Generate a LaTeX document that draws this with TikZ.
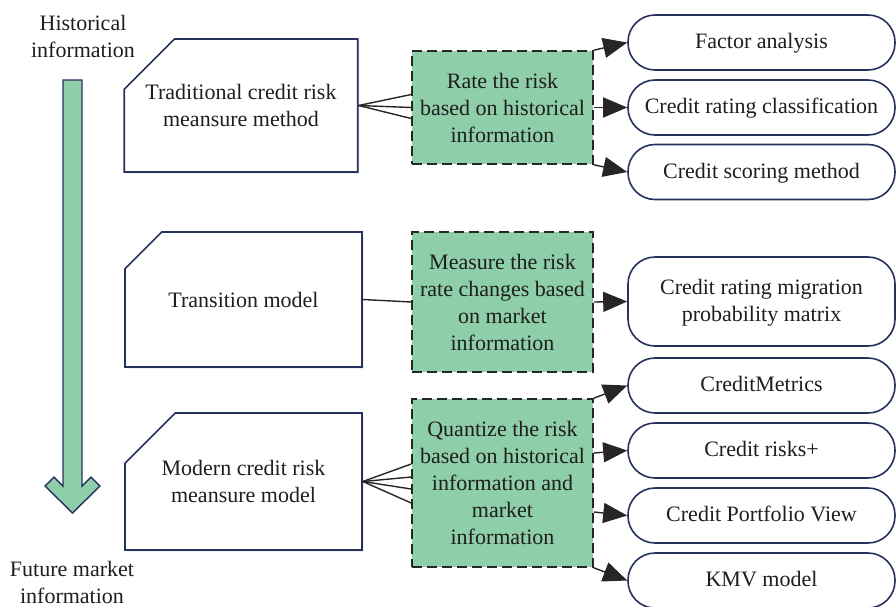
\documentclass[tikz,border=0pt]{standalone}
\usepackage{fontspec}
\setmainfont{Liberation Serif}
\usepackage{tikz}
\usetikzlibrary{shapes.misc,arrows.meta,shadows}
\definecolor{navy}{RGB}{38,50,94}
\definecolor{mint}{RGB}{142,206,168}
\definecolor{ink}{RGB}{30,30,30}
\tikzstyle{method} = [chamfered rectangle,chamfered rectangle corners=north west,
    chamfered rectangle xsep=29pt,chamfered rectangle ysep=29pt,inner sep=0pt,
    draw=navy,line width=1.6pt,fill=white,align=center,
    drop shadow={opacity=0.2,shadow xshift=1.5pt,shadow yshift=-1.5pt}]
\tikzstyle{basis} = [rectangle,draw=black!85,fill=mint,line width=1.6pt,
    dash pattern=on 10pt off 5pt,align=center,minimum width=181pt]
\tikzstyle{tool} = [rectangle,rounded corners=27pt,draw=navy,line width=1.6pt,
    fill=white,align=center,minimum width=267pt,minimum height=55pt,
    text depth=3pt]
\tikzstyle{link} = [line width=1.4pt,black!85]
\tikzset{flow/.style={link,-{Triangle[length=24pt,width=20pt]}}}

\begin{document}
\begin{tikzpicture}[x=1pt,y=-1pt,font=\fontsize{22}{27}\selectfont,text=ink]
\useasboundingbox (0,0) rectangle (896,606);

% time axis
\node (hist) at (83,36) [align=center] {Historical\\information};
\node (fut) at (72,582) [align=center] {Future market\\information};
\draw[draw=navy,fill=mint,line width=1.4pt]
    (63,80) -- (82,80) -- (82,486) -- (91,477) -- (100,486) -- (72.5,513)
    -- (45,486) -- (54,477) -- (63,486) -- cycle;

% methods
\node[method,minimum width=232pt,minimum height=133pt] (trad) at (241,105.5)
    {Traditional credit risk\\meansure method};
\node[method,minimum width=237pt,minimum height=135pt] (trans) at (243.5,299.5)
    {Transition model};
\node[method,minimum width=237pt,minimum height=137pt] (modern) at (243.5,481.5)
    {Modern credit risk\\meansure model};

% what each one is based on
\node[basis,minimum height=113pt] (rate) at (502.5,107.5)
    {Rate the risk\\based on historical\\information};
\node[basis,minimum height=140pt] (change) at (502.5,302)
    {Measure the risk\\rate changes based\\on market\\information};
\node[basis,minimum height=168pt] (quant) at (502.5,483)
    {Quantize the risk\\based on historical\\information and\\market\\information};

% tools
\node[tool] (factor) at (761.5,42.5) {Factor analysis};
\node[tool] (class) at (761.5,107.5) {Credit rating classification};
\node[tool] (score) at (761.5,172) {Credit scoring method};
\node[tool,minimum height=89pt] (migr) at (761.5,301.5)
    {Credit rating migration\\probability matrix};
\node[tool] (cm) at (761.5,385.5) {CreditMetrics};
\node[tool] (cr) at (761.5,450.5) {Credit risks+};
\node[tool] (cpv) at (761.5,515.5) {Credit Portfolio View};
\node[tool] (kmv) at (761.5,580.5) {KMV model};

% fans into the green boxes
\draw[link] (trad.east) -- ([yshift=13pt]rate.west);
\draw[link] (trad.east) -- (rate.west);
\draw[link] (trad.east) -- ([yshift=-11pt]rate.west);
\draw[link] (trans.east) -- (change.west);
\foreach \dy in {19,6,-6,-20}
    \draw[link] (modern.east) -- ([yshift=\dy pt]quant.west);

% arrows out to the tools
\draw[flow] (rate.north east) -- (factor.west);
\draw[flow] (rate.east) -- (class.west);
\draw[flow] (rate.south east) -- (score.west);
\draw[flow] (change.east) -- (migr.west);
\draw[flow] (quant.north east) -- (cm.west);
\draw[flow] ([yshift=30pt]quant.east) -- (cr.west);
\draw[flow] ([yshift=-29pt]quant.east) -- (cpv.west);
\draw[flow] (quant.south east) -- (kmv.west);
\end{tikzpicture}
\end{document}
